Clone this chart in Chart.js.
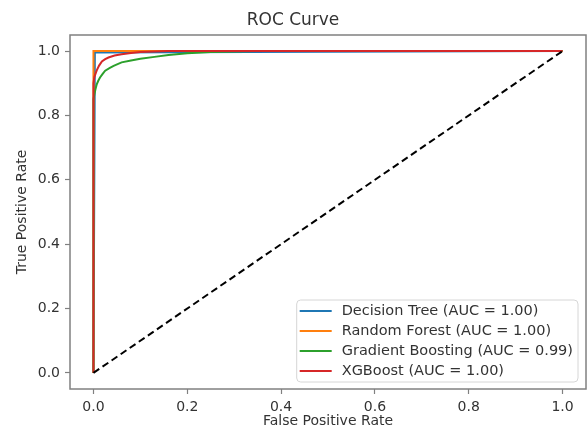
<!DOCTYPE html>
<html>
<head>
<meta charset="utf-8">
<script src="https://cdn.jsdelivr.net/npm/chart.js@4"></script>
<style>
  body { margin: 0; background: #fff; }
  #caja { width: 588px; height: 431px; }
</style>
</head>
<body>
<div id="caja"><canvas id="grafico" width="588" height="431"></canvas></div>
<script>
// Datos (FPR / TPR de cada modelo)
const modelos = ['Decision Tree', 'Random Forest', 'Gradient Boosting', 'XGBoost'];
const aucs = ['1.00', '1.00', '0.99', '1.00'];
const colores = ['#1f77b4', '#ff7f0e', '#2ca02c', '#d62728'];

const fprDT = [0, 0.003, 1];
const tprDT = [0, 0.996, 1];

const fprRF = [0, 0, 1];
const tprRF = [0, 1, 1];

const fprGB = [0, 0, 0.002, 0.004, 0.007, 0.010, 0.014, 0.020, 0.025, 0.035, 0.043, 0.060, 0.080, 0.100, 0.130, 0.160, 0.200, 0.250, 0.300, 0.350, 1];
const tprGB = [0, 0.850, 0.866, 0.880, 0.897, 0.907, 0.918, 0.930, 0.939, 0.948, 0.954, 0.965, 0.971, 0.976, 0.982, 0.988, 0.993, 0.997, 0.999, 1.000, 1];

const fprXGB = [0, 0, 0.002, 0.007, 0.012, 0.018, 0.025, 0.032, 0.045, 0.060, 0.080, 0.100, 0.130, 0.160, 1];
const tprXGB = [0, 0.900, 0.920, 0.940, 0.955, 0.968, 0.975, 0.980, 0.986, 0.990, 0.994, 0.997, 0.999, 1.000, 1];

// Línea de referencia (azar)
const fprAzar = [0, 1];
const tprAzar = [0, 1];

// Marcas de los ejes
const valoresTicks = [0, 0.2, 0.4, 0.6, 0.8, 1.0];
const etiquetasTicks = ['0.0', '0.2', '0.4', '0.6', '0.8', '1.0'];

const fprs = [fprDT, fprRF, fprGB, fprXGB];
const tprs = [tprDT, tprRF, tprGB, tprXGB];

function puntos(xs, ys) {
    return xs.map((x, i) => ({ x: x, y: ys[i] }));
}

const colorTexto = '#333';
const colorMarco = '#808080';
const fuente = 'DejaVu Sans';

// Conjuntos de datos: el último modelo se dibuja encima (order menor)
const datasets = modelos.map((m, i) => ({
    label: m + ' (AUC = ' + aucs[i] + ')',
    data: puntos(fprs[i], tprs[i]),
    borderColor: colores[i],
    backgroundColor: colores[i],
    borderWidth: 2,
    pointRadius: 0,
    tension: 0,
    fill: false,
    order: modelos.length - i
}));
datasets.push({
    label: 'azar',
    data: puntos(fprAzar, tprAzar),
    borderColor: '#000',
    borderWidth: 2,
    borderDash: [7, 4],
    pointRadius: 0,
    fill: false,
    order: 0
});

// Marco completo alrededor del área del gráfico
const marco = {
    id: 'marco',
    afterDraw(chart) {
        const a = chart.chartArea;
        const ctx = chart.ctx;
        ctx.save();
        ctx.strokeStyle = colorMarco;
        ctx.lineWidth = 1.5;
        ctx.strokeRect(a.left, a.top, a.right - a.left, a.bottom - a.top);
        ctx.restore();
    }
};

// Leyenda dentro del área, abajo a la derecha (estilo matplotlib)
const leyenda = {
    id: 'leyenda',
    afterDraw(chart) {
        const a = chart.chartArea;
        const ctx = chart.ctx;
        const items = chart.data.datasets.filter(d => d.label !== 'azar');
        ctx.save();
        ctx.font = '14.5px "' + fuente + '"';
        let maxAncho = 0;
        items.forEach(d => { maxAncho = Math.max(maxAncho, ctx.measureText(d.label).width); });
        const fila = 20;
        const ancho = 3 + 32 + 10 + maxAncho + 5;
        const alto = items.length * fila + 2;
        const x = a.right - 8 - ancho;
        const y = a.bottom - 7 - alto;

        ctx.beginPath();
        ctx.roundRect(x, y, ancho, alto, 4);
        ctx.fillStyle = 'rgba(255,255,255,0.8)';
        ctx.fill();
        ctx.strokeStyle = '#d6d6d6';
        ctx.lineWidth = 1;
        ctx.stroke();

        ctx.textBaseline = 'middle';
        items.forEach((d, i) => {
            const cy = y + 11 + i * fila;
            ctx.beginPath();
            ctx.moveTo(x + 3, cy);
            ctx.lineTo(x + 35, cy);
            ctx.strokeStyle = d.borderColor;
            ctx.lineWidth = 2;
            ctx.stroke();
            ctx.fillStyle = colorTexto;
            ctx.fillText(d.label, x + 45, cy);
        });
        ctx.restore();
    }
};

function ejeLineal(titulo, esY) {
    return {
        type: 'linear',
        min: -0.05,
        max: 1.05,
        afterBuildTicks: scale => {
            scale.ticks = valoresTicks.map(v => ({ value: v }));
        },
        afterFit: scale => {
            if (esY) scale.width = 70;
            else scale.height = 42;
        },
        ticks: {
            color: colorTexto,
            font: { family: fuente, size: 14 },
            padding: 5,
            callback: (v, i) => etiquetasTicks[i]
        },
        grid: {
            drawOnChartArea: false,
            drawTicks: true,
            tickLength: 5,
            tickColor: colorMarco,
            tickWidth: 1.2
        },
        border: { display: false },
        title: {
            display: true,
            text: titulo,
            color: colorTexto,
            font: { family: fuente, size: 14 },
            padding: esY ? { top: 14, bottom: 0 } : { top: 0, bottom: 1.5 }
        }
    };
}

const ctx = document.getElementById('grafico').getContext('2d');
const myChart = new Chart(ctx, {
    type: 'line',
    data: { datasets: datasets },
    plugins: [marco, leyenda],
    options: {
        responsive: false,
        animation: false,
        layout: { padding: { left: 0, right: 2, top: 0, bottom: 0 } },
        scales: {
            x: ejeLineal('False Positive Rate', false),
            y: ejeLineal('True Positive Rate', true)
        },
        plugins: {
            legend: { display: false },
            tooltip: { enabled: false },
            title: {
                display: true,
                text: 'ROC Curve',
                color: colorTexto,
                font: { family: fuente, size: 17, weight: 'normal', lineHeight: 1 },
                padding: { top: 12, bottom: 6 }
            }
        }
    }
});
</script>
</body>
</html>
